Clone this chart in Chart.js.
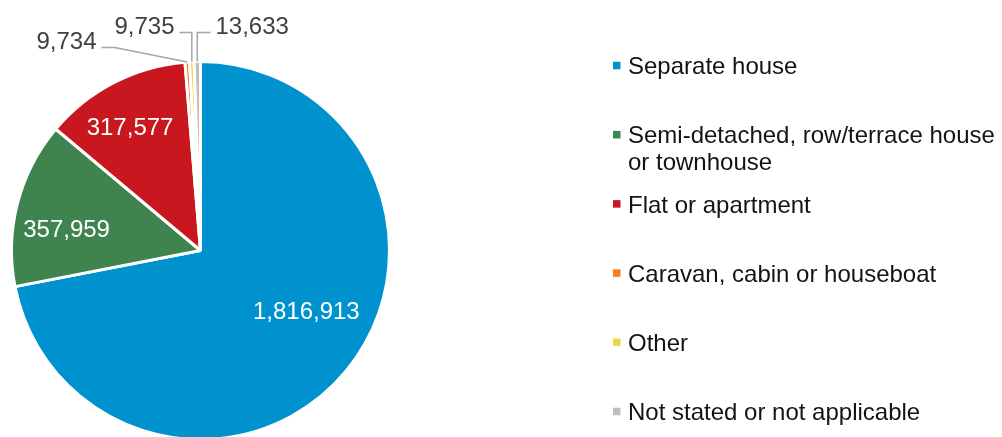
<!DOCTYPE html>
<html>
<head>
<meta charset="utf-8">
<script src="https://cdn.jsdelivr.net/npm/chart.js@4.4.1/dist/chart.umd.min.js"></script>
<style>
  html, body { margin: 0; padding: 0; background: #ffffff; overflow: hidden; }
  #wrap { position: relative; width: 1002px; height: 437px; overflow: hidden; }
</style>
</head>
<body>
<div id="wrap"><canvas id="c" width="1002" height="445"></canvas></div>
<script>
// ---- data ----
const categories = [
  "Separate house",
  "Semi-detached, row/terrace house or townhouse",
  "Flat or apartment",
  "Caravan, cabin or houseboat",
  "Other",
  "Not stated or not applicable"
];
const dwellingCounts = [1816913, 357959, 317577, 9734, 9735, 13633];
const sliceColors = ["#0092CE", "#3F834F", "#C8171E", "#F08020", "#EED64A", "#BFBFBF"];

const FONT = '"Liberation Sans", Arial, Helvetica, sans-serif';
const fmt = v => v.toLocaleString('en-US');

// label placement styling (not data)
const insideNudge = { 0: [11, -16], 1: [-15, 11], 2: [-14, -13] };
const outsideSpec = {
  3: { ey: -203, elbowX: -86, endX: -99, side: 'left' },
  4: { ey: -218, elbowX: null, endX: -21, side: 'left' },
  5: { ey: -218, elbowX: null, endX: 10, side: 'right' }
};

const labelPlugin = {
  id: 'sliceLabels',
  afterDatasetsDraw(chart) {
    const ctx = chart.ctx;
    const meta = chart.getDatasetMeta(0);
    ctx.save();
    ctx.font = '24px ' + FONT;
    meta.data.forEach((arc, i) => {
      const p = arc.getProps(['x', 'y', 'startAngle', 'endAngle', 'outerRadius'], true);
      const mid = (p.startAngle + p.endAngle) / 2;
      const text = fmt(dwellingCounts[i]);
      if (insideNudge[i]) {
        const r = p.outerRadius * 0.65;
        const x = p.x + Math.cos(mid) * r + insideNudge[i][0];
        const y = p.y + Math.sin(mid) * r + insideNudge[i][1];
        ctx.fillStyle = '#ffffff';
        ctx.textAlign = 'center';
        ctx.textBaseline = 'middle';
        ctx.fillText(text, x, y);
      } else if (outsideSpec[i]) {
        const s = outsideSpec[i];
        const ax = p.x + Math.cos(mid) * p.outerRadius;
        const ay = p.y + Math.sin(mid) * p.outerRadius;
        const ly = p.y + s.ey;
        const ex = s.elbowX === null ? ax : p.x + s.elbowX;
        const endX = p.x + s.endX;
        ctx.strokeStyle = '#A6A6A6';
        ctx.lineWidth = 1.5;
        ctx.beginPath();
        ctx.moveTo(ax, ay);
        ctx.lineTo(ex, ly);
        ctx.lineTo(endX, ly);
        ctx.stroke();
        ctx.fillStyle = '#404040';
        ctx.textBaseline = 'middle';
        if (s.side === 'left') {
          ctx.textAlign = 'right';
          ctx.fillText(text, endX - 5, ly - 5);
        } else {
          ctx.textAlign = 'left';
          ctx.fillText(text, endX + 5, ly - 5);
        }
      }
    });
    ctx.restore();
  }
};

const legendPlugin = {
  id: 'sideLegend',
  afterDraw(chart) {
    const ctx = chart.ctx;
    ctx.save();
    ctx.font = '24px ' + FONT;
    const textX = 628, boxX = 613, box = 7.5, maxW = 372, lineH = 26.7;
    categories.forEach((label, i) => {
      const y = 65.5 + i * 69.2;
      const words = label.split(' ');
      const lines = [];
      let cur = '';
      words.forEach(w => {
        const t = cur ? cur + ' ' + w : w;
        if (ctx.measureText(t).width > maxW && cur) { lines.push(cur); cur = w; }
        else cur = t;
      });
      lines.push(cur);
      ctx.fillStyle = sliceColors[i];
      ctx.fillRect(boxX, y - box / 2, box, box);
      ctx.fillStyle = '#141414';
      ctx.textAlign = 'left';
      ctx.textBaseline = 'middle';
      lines.forEach((ln, k) => ctx.fillText(ln, textX, y + 2 + k * lineH));
    });
    ctx.restore();
  }
};

new Chart(document.getElementById('c'), {
  type: 'pie',
  data: {
    labels: categories,
    datasets: [{
      data: dwellingCounts,
      backgroundColor: sliceColors,
      borderColor: '#ffffff',
      borderWidth: 3,
      hoverOffset: 0
    }]
  },
  options: {
    responsive: false,
    animation: false,
    devicePixelRatio: 1,
    rotation: 0,
    layout: { padding: { left: 10, right: 611, top: 60, bottom: 4 } },
    plugins: {
      legend: { display: false },
      tooltip: { enabled: false }
    }
  },
  plugins: [labelPlugin, legendPlugin]
});
</script>
</body>
</html>
